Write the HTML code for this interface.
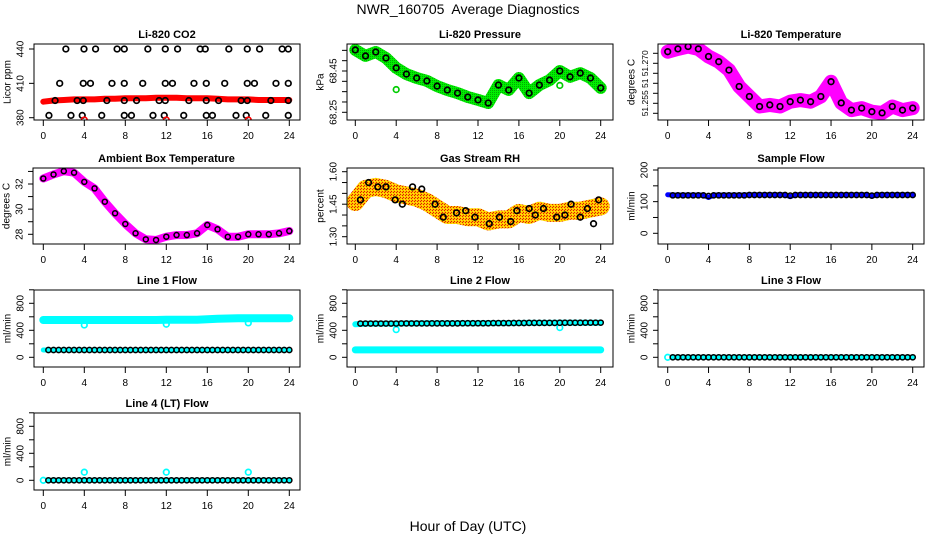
<!DOCTYPE html>
<html><head><meta charset="utf-8"><style>
html,body{margin:0;padding:0;background:#fff;}
svg{display:block;font-family:"Liberation Sans",sans-serif;}
</style></head><body>
<svg id="chart" width="936" height="540" viewBox="0 0 936 540" xmlns="http://www.w3.org/2000/svg">
<defs>
<pattern id="chk" width="3" height="3" patternUnits="userSpaceOnUse"><rect width="3" height="3" fill="#ffc000"/><rect width="1" height="1" fill="#e02000"/><rect x="2" y="1" width="1" height="1" fill="#ffee00"/><rect x="1" y="2" width="1" height="1" fill="#e02000"/></pattern>
<pattern id="gchk" width="2" height="2" patternUnits="userSpaceOnUse"><rect width="2" height="2" fill="#00ee00"/><rect width="1" height="1" fill="#00aa00"/></pattern>
</defs>
<text x="468" y="14" text-anchor="middle" font-size="14" style="white-space:pre">NWR_160705  Average Diagnostics</text>
<text x="468" y="531" text-anchor="middle" font-size="14">Hour of Day (UTC)</text>
</svg>
<script>
// ---- data ----
const xTicks = [0,4,8,12,16,20,24];
const hourly = [0,1,2,3,4,5,6,7,8,9,10,11,12,13,14,15,16,17,18,19,20,21,22,23,24];
const halfHours = [0.5,1,1.5,2,2.5,3,3.5,4,4.5,5,5.5,6,6.5,7,7.5,8,8.5,9,9.5,10,10.5,11,11.5,12,12.5,13,13.5,14,14.5,15,15.5,16,16.5,17,17.5,18,18.5,19,19.5,20,20.5,21,21.5,22,22.5,23,23.5,24];

const co2Band = [394,395,395.5,396,396,396,396.5,396.5,397,397,397,397.5,397.5,397.5,397,397,397,396.5,396,396,396,395.5,395.5,395.5,395.5];
const co2BlackHours = [2.2,3.97,5.1,7.2,7.9,10.2,11.9,13.1,15.3,15.8,18.1,19.9,21.1,23.3,23.9,
 1.6,3.9,4.6,6.7,7.9,9.7,11.9,12.6,14.7,15.9,17.7,19.9,20.6,22.7,23.9,
 1.15,3.3,3.9,6.2,7.9,9.1,11.3,11.9,14.2,15.9,17.1,19.3,19.9,22.2,23.9,
 0.55,2.7,3.8,5.7,7.9,8.6,10.7,11.8,13.7,15.9,16.5,18.8,19.8,21.7,23.9];
const co2BlackValues = [440,440,440,440,440,440,440,440,440,440,440,440,440,440,440,
 410,410,410,410,410,410,410,410,410,410,410,410,410,410,410,
 395,395,395,395,395,395,395,395,395,395,395,395,395,395,395,
 382,382,382,382,382,382,382,382,382,382,382,382,382,382,382];
const co2RedHours = [4,12,20];
const co2RedValues = [378,378,378];

const pressBand = [68.552,68.523,68.542,68.513,68.465,68.435,68.416,68.402,68.377,68.358,68.343,68.324,68.310,68.295,68.382,68.358,68.416,68.343,68.382,68.406,68.450,68.422,68.440,68.416,68.368];
const pressOutHours = [4,12,20];
const pressOutValues = [68.36,68.15,68.38];

const tempBand = [51.2729,51.2736,51.2742,51.2736,51.2717,51.2704,51.2683,51.2642,51.2617,51.2592,51.2596,51.2592,51.2604,51.2608,51.2604,51.2617,51.2654,51.2601,51.2583,51.2588,51.2579,51.2576,51.2592,51.2583,51.2588];

const ambBand = [32.44,32.76,33.02,32.9,32.17,31.65,30.59,29.67,28.82,28.08,27.6,27.55,27.81,27.94,27.94,28.08,28.74,28.4,27.8,27.8,28.0,28.0,28.0,28.08,28.26];

const rhBand = [1.46,1.52,1.53,1.52,1.50,1.49,1.48,1.46,1.43,1.40,1.40,1.39,1.39,1.37,1.38,1.38,1.41,1.40,1.42,1.41,1.41,1.42,1.42,1.43,1.44];
const rhBlackHours = [0.5,1.3,2.2,3.0,3.9,4.6,5.6,6.5,7.8,8.6,9.9,10.8,11.7,13.1,14.1,15.2,15.8,17.0,17.6,18.4,19.7,20.5,21.1,22.0,22.7,23.3,23.8];
const rhBlackValues = [1.47,1.55,1.53,1.53,1.47,1.45,1.53,1.52,1.45,1.39,1.41,1.42,1.39,1.36,1.39,1.37,1.42,1.43,1.40,1.43,1.39,1.40,1.45,1.39,1.43,1.36,1.47];

const sampleBlack = [120,120,120,120,120,120,120,118,120,120,120,120,120,120,120,121,121,121,121,121,121,121,121,119,121,121,121,121,121,121,121,121,121,121,121,121,121,121,121,119,121,121,121,121,121,121,121,121];
const sampleBlue = [122,121,121,121,121,121,121,121,113,121,121,121,121,121,121,121,122,122,122,122,122,122,122,122,116,122,122,122,122,122,122,122,122,122,122,122,122,122,122,122,117,122,122,122,122,122,122,122,122];

const line1Cyan = [552,552,552,552,552,552,552,553,553,553,553,553,555,555,555,555,565,570,575,578,580,580,580,580,580];
const line1Black = [108,108,108,108,108,108,108,108,108,108,108,108,108,108,108,108,108,108,108,108,108,108,108,108,108,108,108,108,108,108,108,108,108,108,108,108,108,108,108,108,108,108,108,108,108,108,108,108];
const line1OutHours = [4,12,20];
const line1OutValues = [478,490,510];

const line2Cyan = [110,110,110,110,110,110,110,110,110,110,110,110,110,110,110,110,110,110,110,110,110,110,110,110,110];
const line2Top = [490,500,500,500,500,502,502,503,503,503,505,505,505,506,506,507,508,510,510,510,512,512,512,513,513];
const line2Black = [500,500,500,500,500,500,500,500,502,502,502,502,502,502,503,503,503,503,503,503,505,505,505,505,505,505,507,507,507,507,508,508,508,510,510,510,510,510,510,512,512,512,512,512,513,513,513,513];
const line2OutHours = [4,20];
const line2OutValues = [410,440];

const line3Black = [0,0,0,0,0,0,0,0,0,0,0,0,0,0,0,0,0,0,0,0,0,0,0,0,0,0,0,0,0,0,0,0,0,0,0,0,0,0,0,0,0,0,0,0,0,0,0,0];
const line3CyanHours = [0];
const line3CyanValues = [0];

const line4Black = [0,0,0,0,0,0,0,0,0,0,0,0,0,0,0,0,0,0,0,0,0,0,0,0,0,0,0,0,0,0,0,0,0,0,0,0,0,0,0,0,0,0,0,0,0,0,0,0];
const line4OutHours = [0,4,12,20];
const line4OutValues = [0,120,120,120];

// ---- drawing ----
const NS = "http://www.w3.org/2000/svg";
const svg = document.getElementById("chart");
function el(tag, attrs, parent){
  const e = document.createElementNS(NS, tag);
  for (const k in attrs) e.setAttribute(k, attrs[k]);
  (parent||svg).appendChild(e);
  return e;
}
function makePanel(cfg){
  const g = el("g", {});
  
  
  const [bl,bt,br,bb] = cfg.box;
  const X = h => cfg.x0 + h*(cfg.x1-cfg.x0)/24;
  const [v1,y1,v2,y2] = cfg.ya;
  const Y = v => y1 + (v-v1)*(y2-y1)/(v2-v1);
  const clip = el("clipPath", {id:"clip-"+cfg.name}, g);
  el("rect", {x:bl, y:bt, width:br-bl, height:bb-bt}, clip);
  const plot = el("g", {"clip-path":"url(#clip-"+cfg.name+")"}, g);
  
  
  cfg.X = X; cfg.Y = Y; cfg.plot = plot;
  cfg.draw(cfg);
  const box = el("rect", {x:bl, y:bt, width:br-bl, height:bb-bt, fill:"none", stroke:"#000", "stroke-width":1}, g);
  
  
  const t = el("text", {x:(bl+br)/2, y:bt-6, "text-anchor":"middle", "font-size":11, "font-weight":"bold"}, g);
  t.textContent = cfg.title;
  
  
  xTicks.forEach(h => {
    el("line", {x1:X(h), x2:X(h), y1:bb, y2:bb+6, stroke:"#000"}, g);
    const lb = el("text", {x:X(h), y:bb+19, "text-anchor":"middle", "font-size":10}, g);
    lb.textContent = h;
    
    
  });
  cfg.yTicks.forEach(v => {
    el("line", {x1:bl-5, x2:bl, y1:Y(v), y2:Y(v), stroke:"#000"}, g);
  });
  const fs = cfg.yFont || 10;
  cfg.yLabels.forEach((s,i) => {
    const yy = Y(cfg.yLabelVals[i]);
    const lb = el("text", {x:bl-13, y:yy, "text-anchor":"middle", "dominant-baseline":"central", "font-size":fs, transform:"rotate(-90 "+(bl-13)+" "+yy+")"}, g);
    lb.textContent = s;
    
    
  });
  const ym = (bt+bb)/2, yx = bl-26;
  const yt = el("text", {x:yx, y:ym, "text-anchor":"middle", "dominant-baseline":"central", "font-size":10, transform:"rotate(-90 "+yx+" "+ym+")"}, g);
  yt.textContent = cfg.ytitle;
  
  
}
function band(cfg, hours, vals, color, w, name){
  const pts = hours.map((h,i) => cfg.X(h).toFixed(1)+","+cfg.Y(vals[i]).toFixed(1)).join(" ");
  const p = el("polyline", {points:pts, fill:"none", stroke:color, "stroke-width":w, "stroke-linejoin":"round", "stroke-linecap":"round"}, cfg.plot);
  
  
}
function circles(cfg, hours, vals, color, name, r, sw){
  hours.forEach((h,i) => {
    const c = el("circle", {cx:cfg.X(h), cy:cfg.Y(vals[i]), r:r||2.8, fill:"none", stroke:color, "stroke-width":sw||1.7}, cfg.plot);
    
    
  });
}
const flowTicks = [0,200,400,600,800,1000];
const flowLabels = ["0","400","800"], flowLabelVals = [0,400,800];

makePanel({name:"co2", title:"Li-820 CO2", ytitle:"Licor ppm", box:[34,44,300,120], x0:43.3, x1:289.3, ya:[380,117.7,440,49],
  yTicks:[380,410,440], yLabels:["380","410","440"], yLabelVals:[380,410,440],
  draw:c => { band(c, hourly, co2Band, "#ff0000", 6, "co2-band");
    circles(c, co2BlackHours, co2BlackValues, "#000", "co2-point");
    circles(c, co2RedHours, co2RedValues, "#ff0000", "co2-outlier"); }});
makePanel({name:"pressure", title:"Li-820 Pressure", ytitle:"kPa", box:[347,44,613,120], x0:355.3, x1:600.7, ya:[68.25,112.3,68.45,71],
  yTicks:[68.25,68.30,68.35,68.40,68.45,68.50,68.55], yLabels:["68.45","68.25"], yLabelVals:[68.45,68.25],
  draw:c => { band(c, hourly, pressBand, "url(#gchk)", 12, "pressure-band");
    circles(c, pressOutHours, pressOutValues, "#00cc00", "pressure-outlier");
    circles(c, hourly, pressBand, "#000", "pressure-point"); }});
makePanel({name:"temperature", title:"Li-820 Temperature", ytitle:"degrees C", box:[658,44,924,120], x0:667.7, x1:912.7, ya:[51.26,103.3,51.27,63.3],
  yTicks:[51.2575,51.26,51.2625,51.265,51.2675,51.27,51.2725], yLabels:["51.270","51","51.255"], yLabelVals:[51.27,51.265,51.26], yFont:8.5,
  draw:c => { band(c, hourly, tempBand, "#ff00ff", 14, "temperature-band");
    circles(c, hourly, tempBand, "#000", "temperature-point"); }});
makePanel({name:"ambient", title:"Ambient Box Temperature", ytitle:"degrees C", box:[33,168,300,244], x0:43.3, x1:289.3, ya:[28,234.3,32,184],
  yTicks:[28,29,30,31,32,33], yLabels:["28","30","32"], yLabelVals:[28,30,32],
  draw:c => { band(c, hourly, ambBand, "#ff00ff", 8, "ambient-band");
    circles(c, hourly, ambBand, "#000", "ambient-point", 2.5, 1.5); }});
makePanel({name:"rh", title:"Gas Stream RH", ytitle:"percent", box:[347,168,613,244], x0:355.3, x1:600.7, ya:[1.30,236.7,1.60,171.7],
  yTicks:[1.30,1.35,1.40,1.45,1.50,1.55,1.60], yLabels:["1.30","1.45","1.60"], yLabelVals:[1.30,1.45,1.60],
  draw:c => { band(c, hourly, rhBand, "url(#chk)", 18, "rh-band");
    circles(c, rhBlackHours, rhBlackValues, "#000", "rh-point"); }});
makePanel({name:"sample-flow", title:"Sample Flow", ytitle:"ml/min", box:[658,168,924,244], x0:667.7, x1:912.7, ya:[0,233.3,200,170],
  yTicks:[0,50,100,150,200], yLabels:["0","100","200"], yLabelVals:[0,100,200],
  draw:c => { band(c, [0].concat(halfHours), sampleBlue, "#0000ff", 5, "sample-flow-band");
    circles(c, halfHours, sampleBlack, "#000", "sample-flow-point", 2.6, 1.5); }});
makePanel({name:"line1-flow", title:"Line 1 Flow", ytitle:"ml/min", box:[34,290,300,367], x0:43.3, x1:289.3, ya:[0,357.3,800,303.3],
  yTicks:flowTicks, yLabels:flowLabels, yLabelVals:flowLabelVals,
  draw:c => { band(c, hourly, line1Cyan, "#00ffff", 8, "line1-cyan-band");
    band(c, hourly, line1Cyan.map(()=>108), "#00ffff", 5, "line1-cyan-low");
    circles(c, line1OutHours, line1OutValues, "#00ffff", "line1-outlier");
    circles(c, halfHours, line1Black, "#000", "line1-point", 2.6, 1.5); }});
makePanel({name:"line2-flow", title:"Line 2 Flow", ytitle:"ml/min", box:[347,290,613,367], x0:355.3, x1:600.7, ya:[0,357.3,800,303.3],
  yTicks:flowTicks, yLabels:flowLabels, yLabelVals:flowLabelVals,
  draw:c => { band(c, hourly, line2Cyan, "#00ffff", 7, "line2-cyan-band");
    band(c, hourly, line2Top, "#00ffff", 6, "line2-cyan-top");
    circles(c, line2OutHours, line2OutValues, "#00ffff", "line2-outlier");
    circles(c, halfHours, line2Black, "#000", "line2-point", 2.6, 1.5); }});
makePanel({name:"line3-flow", title:"Line 3 Flow", ytitle:"ml/min", box:[658,290,924,367], x0:667.7, x1:912.7, ya:[0,357.3,800,303.3],
  yTicks:flowTicks, yLabels:flowLabels, yLabelVals:flowLabelVals,
  draw:c => { band(c, halfHours, line3Black, "#00ffff", 5, "line3-cyan-band");
    circles(c, line3CyanHours, line3CyanValues, "#00ffff", "line3-cyan-point");
    circles(c, halfHours, line3Black, "#000", "line3-point", 2.6, 1.5); }});
makePanel({name:"line4-flow", title:"Line 4 (LT) Flow", ytitle:"ml/min", box:[34,413,300,490], x0:43.3, x1:289.3, ya:[0,480.3,800,426.3],
  yTicks:flowTicks, yLabels:flowLabels, yLabelVals:flowLabelVals,
  draw:c => { band(c, halfHours, line4Black, "#00ffff", 5, "line4-cyan-band");
    circles(c, line4OutHours, line4OutValues, "#00ffff", "line4-outlier");
    circles(c, halfHours, line4Black, "#000", "line4-point", 2.6, 1.5); }});
</script>
</body></html>
